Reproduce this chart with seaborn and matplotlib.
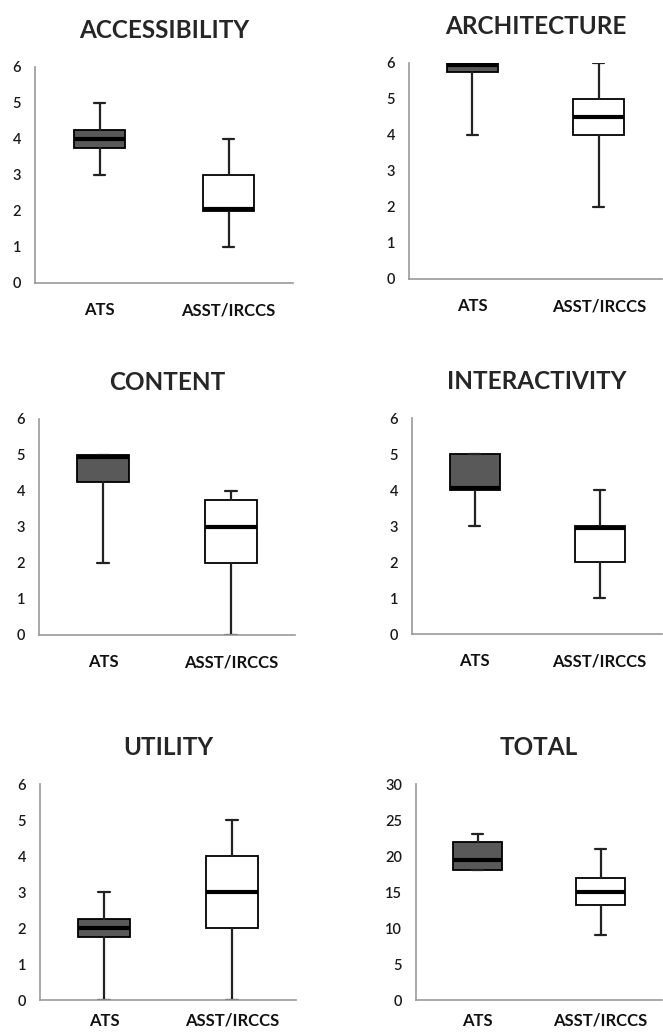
import matplotlib
matplotlib.use("Agg")
import matplotlib.pyplot as plt
import seaborn as sns

# Box plot summaries (min, q1, median, q3, max)
titles = ["ACCESSIBILITY", "ARCHITECTURE", "CONTENT", "INTERACTIVITY", "UTILITY", "TOTAL"]
groups = ["ATS", "ASST/IRCCS"]

ats_min = [3, 4, 2, 3, 0, 18]
ats_q1 = [3.75, 5.75, 4.25, 4, 1.75, 18]
ats_med = [4, 5.95, 4.95, 4.05, 2, 19.5]
ats_q3 = [4.25, 6, 5, 5, 2.25, 22]
ats_max = [5, 6, 5, 5, 3, 23]

asst_min = [1, 2, 0, 1, 0, 9]
asst_q1 = [2, 4, 2, 2, 2, 13.25]
asst_med = [2.05, 4.5, 3, 2.95, 3, 15]
asst_q3 = [3, 5, 3.75, 3, 4, 17]
asst_max = [4, 6, 4, 4, 5, 21]

y_max = [6, 6, 6, 6, 6, 30]
y_step = [1, 1, 1, 1, 1, 5]

# axes boxes in pixels: left, top, right, bottom
W, H = 663, 1033
boxes_px = [
    (35, 67, 293, 283),
    (409, 63, 662, 279),
    (39, 419, 295, 635),
    (412, 418, 662, 634),
    (40, 784, 296, 1000),
    (416, 784, 662, 1000),
]

sns.set_style("white")
plt.rcParams["font.family"] = ["Lato", "DejaVu Sans"]

fig = plt.figure(figsize=(W / 100, H / 100), dpi=100)
fill_colors = ["#595959", "white"]

for i, title in enumerate(titles):
    l, t, r, b = boxes_px[i]
    ax = fig.add_axes([l / W, 1 - b / H, (r - l) / W, (b - t) / H])

    stats = [
        dict(label=groups[0], whislo=ats_min[i], q1=ats_q1[i], med=ats_med[i],
             q3=ats_q3[i], whishi=ats_max[i], fliers=[]),
        dict(label=groups[1], whislo=asst_min[i], q1=asst_q1[i], med=asst_med[i],
             q3=asst_q3[i], whishi=asst_max[i], fliers=[]),
    ]
    bp = ax.bxp(stats, positions=[0, 1], widths=0.4, patch_artist=True,
                showfliers=False,
                boxprops=dict(edgecolor="black", linewidth=1.3),
                medianprops=dict(color="black", linewidth=3, solid_capstyle="butt"),
                whiskerprops=dict(color="#222222", linewidth=1.6),
                capprops=dict(color="#222222", linewidth=1.6))
    for patch, c in zip(bp["boxes"], fill_colors):
        patch.set_facecolor(c)
    for cap in bp["caps"]:
        x0, x1 = cap.get_xdata()
        xc = (x0 + x1) / 2
        cap.set_xdata([xc - 0.045, xc + 0.045])

    ax.set_xlim(-0.5, 1.5)
    ax.set_ylim(0, y_max[i])
    ax.set_yticks(range(0, y_max[i] + 1, y_step[i]))
    ax.set_xticks([0, 1])
    ax.set_xticklabels(groups, fontweight="bold", fontsize=12, color="#111111")
    ax.set_xticks([-0.5, 0.5, 1.5], minor=True)
    # bottom row labels sit close to the figure edge
    ax.tick_params(axis="x", which="major", length=0, pad=9 if i >= 4 else 14)
    ax.tick_params(axis="x", which="minor", length=4, color="#999999", direction="out")
    ax.tick_params(axis="y", length=4, color="#999999", direction="out",
                   labelsize=10.5, labelcolor="#1a1a1a", pad=6)
    for lab in ax.get_yticklabels():
        lab.set_fontweight("semibold")
    sns.despine(ax=ax)
    for s in ["left", "bottom"]:
        ax.spines[s].set_color("#999999")
        ax.spines[s].set_linewidth(1.2)
    ax.set_title(title, fontsize=17.5, fontweight="bold", pad=21)

fig.savefig("out.png", dpi=100)
